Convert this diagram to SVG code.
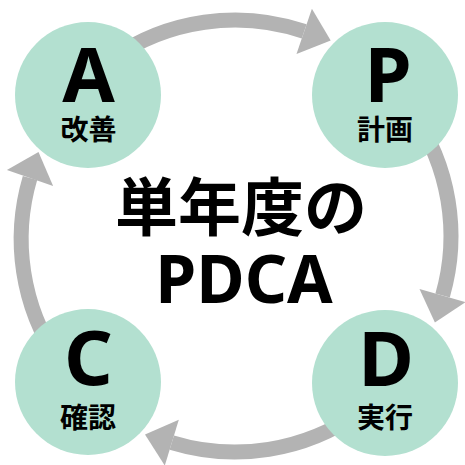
<svg xmlns="http://www.w3.org/2000/svg" width="465" height="465" viewBox="0 0 465 465">
  <style>
    .arc { fill: none; stroke: #b3b3b3; stroke-width: 15; }
    .head { fill: #b3b3b3; }
    .node { fill: #b3e0d0; }
    .letter { font-family: "Noto Sans", "Noto Sans CJK JP", sans-serif; font-weight: 700; font-size: 76px; fill: #000; text-anchor: middle; }
    .sub { font-family: "Noto Sans CJK JP", sans-serif; font-weight: 700; font-size: 28px; fill: #000; text-anchor: middle; }
    .title { font-family: "Noto Sans CJK JP", sans-serif; font-weight: 700; font-size: 63px; fill: #000; text-anchor: middle; }
    .title2 { font-family: "Noto Sans", "Noto Sans CJK JP", sans-serif; font-weight: 700; font-size: 66px; fill: #000; text-anchor: middle; }
  </style>
  <rect width="465" height="465" fill="#ffffff"/>
  <g id="connectors">
    <path class="arc" d="M111.1,59.1 A216,216 0 0 1 304.2,31.4"/>
    <polygon class="head" points="311.9,8.7 330.7,40.4 296.5,54.1"/>
    <path class="arc" d="M411.9,112.1 A216,216 0 0 1 442.6,295.5"/>
    <polygon class="head" points="465.7,302.1 434.9,322.4 419.5,288.9"/>
    <path class="arc" d="M358.9,412.9 A216,216 0 0 1 171.8,442.6"/>
    <polygon class="head" points="164.8,465.6 145.0,434.4 178.8,419.7"/>
    <path class="arc" d="M58.1,359.9 A216,216 0 0 1 30,178"/>
    <polygon class="head" points="6.9,170 38.5,152 53.1,186"/>
  </g>
  <g id="node-A">
    <circle class="node" cx="88" cy="95" r="73"/>
    <text class="letter" x="88.5" y="102">A</text>
    <text class="sub" x="88.5" y="140">改善</text>
  </g>
  <g id="node-P">
    <circle class="node" cx="385" cy="95" r="73"/>
    <text class="letter" x="388" y="102">P</text>
    <text class="sub" x="385" y="140">計画</text>
  </g>
  <g id="node-D">
    <circle class="node" cx="385" cy="383" r="73"/>
    <text class="letter" x="386" y="386">D</text>
    <text class="sub" x="385" y="428">実行</text>
  </g>
  <g id="node-C">
    <circle class="node" cx="88" cy="382" r="73"/>
    <text class="letter" x="88.5" y="385">C</text>
    <text class="sub" x="88" y="428">確認</text>
  </g>
  <g id="title">
    <text class="title" x="241" y="230">単年度の</text>
    <text class="title2" x="244" y="303">PDCA</text>
  </g>
</svg>
